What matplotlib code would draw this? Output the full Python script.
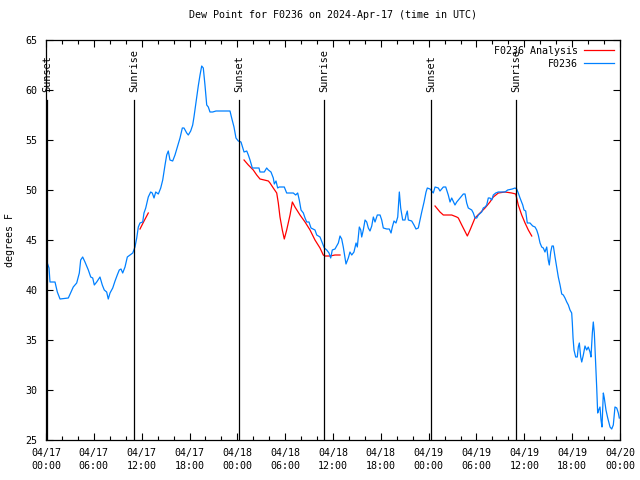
import matplotlib
matplotlib.use("Agg")
import matplotlib.pyplot as plt
from matplotlib.ticker import MultipleLocator, FixedLocator

# hours since 2024-04-17 00:00 UTC
obs_hours = [0.16, 0.38, 0.50, 0.72, 1.13, 1.42, 1.76, 2.80, 3.42, 3.85, 4.18, 4.35, 4.60, 4.89,
             5.31, 5.61, 5.86, 6.06, 6.36, 6.77, 7.06, 7.31, 7.61, 7.81, 8.03, 8.37, 8.66, 8.94,
             9.19, 9.41, 9.62, 9.91, 10.20, 10.54, 10.88, 11.16, 11.38, 11.58, 11.79, 12.13, 12.29,
             12.51, 12.83, 13.13, 13.33, 13.55, 13.76, 14.09, 14.39, 14.64, 14.93, 15.14, 15.34,
             15.55, 15.89, 16.18, 16.47, 16.81, 17.10, 17.31, 17.65, 17.85, 18.15, 18.40, 18.56,
             18.82, 19.10, 19.32, 19.53, 19.73, 19.94, 20.16, 20.36, 20.57, 20.91, 21.32, 23.08,
             23.29, 23.58, 23.83, 24.12, 24.46, 24.84, 25.18, 25.38, 25.59, 25.88, 26.72, 26.84,
             27.38, 27.68, 27.89, 28.22, 28.51, 28.64, 28.85, 29.06, 29.26, 29.89, 30.19, 31.02,
             31.32, 31.57, 31.77, 31.99, 32.28, 32.49, 32.70, 32.99, 33.24, 33.74, 33.96, 34.37,
             34.66, 34.91, 35.21, 35.50, 35.71, 35.91, 36.25, 36.67, 36.88, 37.09, 37.29, 37.51,
             37.63, 37.92, 38.13, 38.35, 38.63, 38.89, 39.05, 39.30, 39.48, 39.60, 39.80, 40.02,
             40.23, 40.43, 40.64, 40.86, 41.06, 41.27, 41.56, 41.90, 42.11, 42.31, 42.74, 43.06,
             43.28, 43.44, 43.65, 43.90, 44.12, 44.32, 44.49, 44.74, 45.03, 45.16, 45.32, 45.45,
             45.87, 46.16, 46.41, 46.70, 46.91, 47.13, 47.42, 47.67, 47.83, 48.17, 48.38, 48.58,
             48.80, 49.21, 49.42, 49.84, 50.14, 50.46, 50.68, 50.89, 51.30, 51.52, 51.93, 52.35,
             52.56, 52.77, 52.97, 53.40, 53.60, 53.81, 54.03, 54.23, 54.65, 54.85, 55.07, 55.28,
             55.48, 55.69, 55.91, 56.11, 56.41, 56.74, 57.07, 57.58, 57.91, 58.49, 58.83, 59.04,
             59.24, 59.46, 59.80, 59.96, 60.17, 60.37, 60.71, 61.05, 61.34, 61.55, 61.75, 61.97,
             62.18, 62.38, 62.59, 62.81, 63.00, 63.13, 63.31, 63.47, 63.64, 63.85, 64.06, 64.26,
             64.48, 64.69, 64.89, 65.10, 65.32, 65.52, 65.73, 65.94, 66.02, 66.11, 66.23, 66.44,
             66.64, 66.77, 66.90, 67.07, 67.20, 67.40, 67.61, 67.82, 68.02, 68.24, 68.36, 68.53,
             68.65, 68.78, 68.95, 69.08, 69.20, 69.33, 69.49, 69.62, 69.74, 69.91, 70.03, 70.24,
             70.46, 70.75, 70.96, 71.16, 71.37, 71.59, 71.79, 71.91]
obs_dewpt = [42.7, 42.2, 40.8, 40.8, 40.8, 39.8, 39.1, 39.2, 40.3, 40.7, 41.7, 43.0, 43.3, 42.8,
             42.0, 41.3, 41.2, 40.5, 40.8, 41.3, 40.5, 40.0, 39.8, 39.1, 39.7, 40.2, 40.9, 41.5,
             42.0, 42.1, 41.7, 42.3, 43.3, 43.5, 43.7, 44.3, 45.2, 46.3, 46.7, 46.8, 47.7,
             48.2, 49.3, 49.8, 49.7, 49.2, 49.8, 49.6, 50.2, 51.0, 52.5, 53.5, 53.9,
             53.0, 52.9, 53.5, 54.3, 55.2, 56.2, 56.2, 55.7, 55.5, 55.9, 56.5, 57.3,
             58.8, 60.4, 61.5, 62.4, 62.2, 60.5, 58.5, 58.3, 57.8, 57.8, 57.9, 57.9,
             57.2, 56.3, 55.2, 54.9, 54.8, 53.8, 53.9, 53.5, 53.0, 52.2, 52.2, 51.8,
             51.8, 52.2, 52.0, 51.8, 51.2, 50.6, 50.9, 50.2, 50.3, 50.3, 49.7, 49.7,
             49.5, 49.7, 49.0, 48.0, 47.7, 47.2, 46.8, 46.8, 46.2, 46.0, 45.5, 45.3,
             44.7, 44.2, 44.0, 43.7, 43.2, 44.0, 44.1, 44.7, 45.4, 45.1, 44.3, 43.2,
             42.6, 43.2, 43.8, 43.5, 43.8, 44.7, 44.3, 46.3, 46.0, 45.3, 46.0, 47.0,
             46.8, 46.2, 45.9, 46.4, 47.3, 46.8, 47.5, 47.5, 47.0, 46.2, 46.1, 46.1,
             45.7, 46.3, 46.9, 46.7, 47.3, 49.8, 48.2, 47.0, 47.0, 47.5, 47.9, 47.0,
             46.9, 46.5, 46.1, 46.2, 47.0, 47.8, 48.8, 49.8, 50.2, 50.1, 49.9, 49.7,
             50.3, 50.2, 49.9, 50.3, 50.3, 49.5, 48.8, 49.2, 48.5, 48.8, 49.2, 49.6,
             49.6, 48.7, 48.2, 48.0, 47.7, 47.2, 47.2, 47.5, 47.8, 48.2, 48.3, 48.5,
             49.2, 49.2, 49.0, 49.5, 49.7, 49.8, 49.8, 49.8, 50.0, 50.1, 50.2, 50.1,
             49.7, 49.2, 48.5, 48.0, 47.9, 46.7, 46.7, 46.4, 46.3, 46.0, 45.5, 44.7,
             44.3, 44.2, 43.8, 44.3, 43.0, 42.5, 43.8, 44.4, 44.4, 43.3, 42.3, 41.3,
             40.5, 39.6, 39.5, 39.2, 38.8, 38.5, 38.0, 37.7, 36.7, 35.2, 34.0, 33.3,
             33.3, 34.3, 34.7, 33.3, 32.8, 33.5, 34.4, 34.0, 34.3, 33.8, 33.3, 35.7,
             36.8, 35.7, 32.7, 30.2, 27.7, 28.0, 28.3, 27.0, 26.3, 29.7, 29.2, 28.0,
             27.2, 26.3, 26.1, 26.5, 28.3, 28.2, 27.7, 27.2]

# analysis runs (three separate pieces)
ana1_hours = [11.79, 12.30, 12.83]
ana1_dewpt = [46.1, 46.9, 47.7]
ana2_hours = [24.84, 25.38, 26.00, 26.43, 26.84, 27.38, 27.89, 28.10, 28.51, 28.94, 29.14, 29.35,
              29.64, 29.89, 30.19, 30.61, 30.90, 31.23, 31.86, 32.49, 33.12, 33.74, 34.37, 34.78,
              35.00, 35.63, 36.25, 36.88]
ana2_dewpt = [53.0, 52.5, 52.0, 51.5, 51.1, 51.0, 50.9, 50.7, 50.2, 49.7, 48.7, 47.3,
              46.0, 45.1, 46.0, 47.5, 48.8, 48.3, 47.5, 46.8, 46.0, 45.0, 44.2, 43.5,
              43.4, 43.4, 43.5, 43.5]
ana3_hours = [48.80, 49.42, 49.84, 50.89, 51.52, 51.72, 52.15, 52.85, 53.19, 53.81, 54.44, 55.07,
              55.69, 56.11, 56.74, 57.58, 58.42, 58.92, 59.24, 59.67, 60.09, 60.50, 60.93]
ana3_dewpt = [48.4, 47.8, 47.5, 47.5, 47.3, 47.2, 46.5, 45.4, 46.0, 47.2, 47.7, 48.2,
              48.8, 49.3, 49.7, 49.8, 49.7, 49.6, 48.5, 47.5, 46.7, 46.0, 45.4]

sun_hours = [0.13, 11.04, 24.21, 34.87, 48.29, 58.96]
sun_labels = ["Sunset", "Sunrise", "Sunset", "Sunrise", "Sunset", "Sunrise"]

tick_hours = list(range(0, 73, 6))
tick_labels = ["04/17\n00:00", "04/17\n06:00", "04/17\n12:00", "04/17\n18:00",
               "04/18\n00:00", "04/18\n06:00", "04/18\n12:00", "04/18\n18:00",
               "04/19\n00:00", "04/19\n06:00", "04/19\n12:00", "04/19\n18:00",
               "04/20\n00:00"]

plt.rcParams['font.family'] = ['DejaVu Sans Mono']
plt.rcParams['font.size'] = 7.2

fig = plt.figure(figsize=(6.4, 4.8), dpi=100)
ax = fig.add_axes([46 / 640, 40 / 480, 574 / 640, 400 / 480])

lw = 0.9
ax.plot(ana1_hours, ana1_dewpt, color='#ff0000', lw=lw, label='F0236 Analysis')
ax.plot(ana2_hours, ana2_dewpt, color='#ff0000', lw=lw)
ax.plot(ana3_hours, ana3_dewpt, color='#ff0000', lw=lw)
ax.plot(obs_hours, obs_dewpt, color='#0080ff', lw=lw, label='F0236')

for h, name in zip(sun_hours, sun_labels):
    ax.plot([h, h], [25, 59], color='black', lw=lw)
    ax.text(h, 59.8, name, rotation=90, ha='center', va='bottom', fontsize=7.4)

ax.set_xlim(0, 72)
ax.set_ylim(25, 65)
ax.xaxis.set_major_locator(FixedLocator(tick_hours))
ax.set_xticklabels(tick_labels, linespacing=1.35)
ax.xaxis.set_minor_locator(MultipleLocator(2))
ax.yaxis.set_major_locator(MultipleLocator(5))
ax.tick_params(which='both', direction='in', top=True, right=True, width=0.8)
ax.tick_params(which='major', length=5, pad=6)
ax.tick_params(which='minor', length=3)
for s in ax.spines.values():
    s.set_linewidth(0.9)

ax.set_title('Dew Point for F0236 on 2024-Apr-17 (time in UTC)', fontsize=7.2, pad=16)
ax.set_ylabel('degrees F', labelpad=8)

ax.legend(loc='upper right', frameon=False, markerfirst=False, handlelength=3.0,
          borderaxespad=0.2, labelspacing=0.3, handletextpad=0.6)

fig.savefig('out.png', dpi=100)
